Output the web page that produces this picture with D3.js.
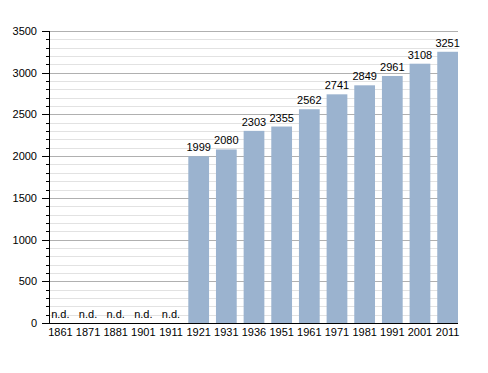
<!DOCTYPE html>
<html>
<head>
<meta charset="utf-8">
<script src="https://cdn.jsdelivr.net/npm/d3@7"></script>
<style>
  body { margin: 0; background: #fff; }
  text { font-family: "Liberation Sans", Arial, sans-serif; font-size: 11px; fill: #000; }
</style>
</head>
<body>
<div id="chart"></div>
<script>
// Census years and population (null = no data, shown as "n.d.")
const years = ["1861", "1871", "1881", "1901", "1911", "1921", "1931", "1936", "1951", "1961", "1971", "1981", "1991", "2001", "2011"];
const population = [null, null, null, null, null, 1999, 2080, 2303, 2355, 2562, 2741, 2849, 2961, 3108, 3251];
const yTicks = [0, 500, 1000, 1500, 2000, 2500, 3000, 3500];
const minorTicks = d3.range(0, 3501, 100);

const W = 488, H = 373;
const margin = { top: 31, right: 30, bottom: 50, left: 50 };
const width = W - margin.left - margin.right;
const height = H - margin.top - margin.bottom;

const svg = d3.select("#chart")
    .append("svg")
    .attr("width", W)
    .attr("height", H)
    .append("g")
    .attr("transform", `translate(${margin.left}, ${margin.top})`);

const x = d3.scaleBand()
    .domain(years)
    .range([0, width])
    .paddingInner(0.25)
    .paddingOuter(0)
    .align(0);

const y = d3.scaleLinear()
    .domain([0, 3500])
    .range([height, 0]);

// minor grid
svg.append("g")
    .selectAll("line")
    .data(minorTicks.filter(d => d % 500 !== 0))
    .enter()
    .append("line")
    .attr("x1", 0)
    .attr("x2", width)
    .attr("y1", d => Math.round(y(d)) + 0.5)
    .attr("y2", d => Math.round(y(d)) + 0.5)
    .attr("stroke", "#e2e2e2");

// major grid
svg.append("g")
    .selectAll("line")
    .data(yTicks.filter(d => d > 0))
    .enter()
    .append("line")
    .attr("x1", 0)
    .attr("x2", width)
    .attr("y1", d => Math.round(y(d)) + 0.5)
    .attr("y2", d => Math.round(y(d)) + 0.5)
    .attr("stroke", "#b0b0b0");

// bars
const data = years.map((yr, i) => ({ year: yr, value: population[i] }));

svg.selectAll(".bar")
    .data(data.filter(d => d.value != null))
    .enter()
    .append("rect")
    .attr("class", "bar")
    .attr("x", d => x(d.year))
    .attr("y", d => y(d.value))
    .attr("width", x.bandwidth())
    .attr("height", d => height - y(d.value))
    .attr("fill", "#9bb3cf");

// value labels
svg.selectAll(".val")
    .data(data)
    .enter()
    .append("text")
    .attr("class", "val")
    .attr("x", d => x(d.year) + x.bandwidth() / 2)
    .attr("y", d => d.value == null ? height - 5 : y(d.value) - 5)
    .attr("text-anchor", "middle")
    .text(d => d.value == null ? "n.d." : d.value);

// y axis: minor ticks
svg.append("g")
    .selectAll("line")
    .data(minorTicks)
    .enter()
    .append("line")
    .attr("x1", d => d % 500 === 0 ? -8 : -4)
    .attr("x2", 0)
    .attr("y1", d => Math.round(y(d)) + 0.5)
    .attr("y2", d => Math.round(y(d)) + 0.5)
    .attr("stroke", "#000");

svg.append("g")
    .selectAll("text")
    .data(yTicks)
    .enter()
    .append("text")
    .attr("x", -13)
    .attr("y", d => y(d) + 4)
    .attr("text-anchor", "end")
    .text(d => d);

svg.append("line")
    .attr("x1", -0.5).attr("x2", -0.5)
    .attr("y1", 0).attr("y2", height)
    .attr("stroke", "#000");

// x axis
svg.append("line")
    .attr("x1", -0.5).attr("x2", width)
    .attr("y1", height + 0.5).attr("y2", height + 0.5)
    .attr("stroke", "#000");

svg.append("g")
    .selectAll("text")
    .data(years)
    .enter()
    .append("text")
    .attr("x", d => x(d) + x.bandwidth() / 2)
    .attr("y", height + 13)
    .attr("text-anchor", "middle")
    .text(d => d);
</script>
</body>
</html>
